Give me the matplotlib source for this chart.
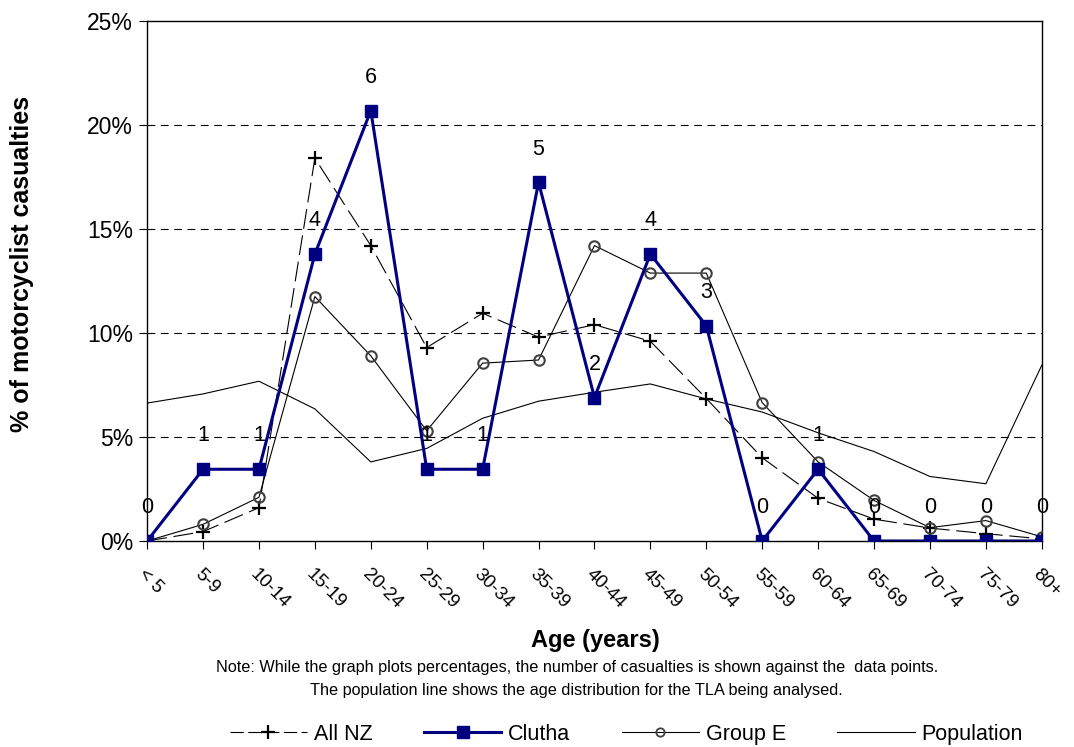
import numpy as np
import matplotlib.pyplot as plt
import matplotlib.transforms as mtransforms
from matplotlib.lines import Line2D

plt.rcParams['font.family'] = ['Liberation Sans', 'DejaVu Sans']

age_groups = ["< 5", "5-9", "10-14", "15-19", "20-24", "25-29", "30-34", "35-39",
              "40-44", "45-49", "50-54", "55-59", "60-64", "65-69", "70-74",
              "75-79", "80+"]

# percentages of motorcyclist casualties
all_nz = [0.0, 0.45, 1.6, 18.4, 14.2, 9.3, 10.95, 9.8, 10.4, 9.6, 6.85,
          4.0, 2.05, 1.05, 0.62, 0.35, 0.1]
clutha_counts = [0, 1, 1, 4, 6, 1, 1, 5, 2, 4, 3, 0, 1, 0, 0, 0, 0]
group_e = [0.0, 0.8, 2.1, 11.75, 8.9, 5.3, 8.55, 8.7, 14.2, 12.88, 12.88,
           6.65, 3.8, 1.95, 0.64, 0.98, 0.2]
population = [6.63, 7.07, 7.68, 6.35, 3.8, 4.45, 5.9, 6.72, 7.15, 7.55, 6.83,
              6.2, 5.2, 4.3, 3.1, 2.75, 8.45]

clutha = [100.0 * c / sum(clutha_counts) for c in clutha_counts]
x = np.arange(len(age_groups))

fig = plt.figure(figsize=(10.74, 7.47), dpi=100)
ax = fig.add_axes([0.137, 0.2758, 0.833, 0.6961])

navy = "#000080"

ax.plot(x, population, color="black", lw=0.8, zorder=2)
ax.plot(x, all_nz, color="black", lw=0.8, dashes=(18, 6), marker="+",
        ms=10, mew=1.6, zorder=3)
ax.plot(x, group_e, color="black", lw=0.8, marker="o", ms=7.5,
        mfc="none", mec="#404040", mew=1.5, zorder=3)
ax.plot(x, clutha, color=navy, lw=2.2, marker="s", ms=8.5, mfc=navy,
        mec=navy, zorder=4)

for xi, yi, c in zip(x, clutha, clutha_counts):
    ax.annotate(str(c), (xi, yi), xytext=(0, 24), textcoords="offset points",
                ha="center", va="center", fontsize=15.5, zorder=5)

ax.set_xlim(0, len(age_groups) - 1)
ax.set_ylim(0, 25)
ax.set_yticks([0, 5, 10, 15, 20, 25])
ax.set_yticklabels([f"{v}%" for v in [0, 5, 10, 15, 20, 25]], fontsize=16.5)
for v in [5, 10, 15, 20]:
    ax.axhline(v, color="black", lw=0.8, dashes=(7, 5), zorder=1)

ax.set_xticks(x)
ax.set_xticklabels(age_groups, rotation=-45, ha="left", va="top",
                   rotation_mode="anchor", fontsize=13.5)
shift = mtransforms.ScaledTranslation(6 / 100, 0, fig.dpi_scale_trans)
for lab in ax.get_xticklabels():
    lab.set_transform(lab.get_transform() + shift)
ax.tick_params(axis="x", length=6, pad=12)
ax.tick_params(axis="y", length=6, pad=4)
for s in ax.spines.values():
    s.set_linewidth(1.0)

ax.set_ylabel("% of motorcyclist casualties", fontsize=18, fontweight="bold")
ax.yaxis.set_label_coords(-0.127, 0.533)
fig.text(0.554, 0.143, "Age (years)", ha="center", va="center", fontsize=17,
         fontweight="bold")
fig.text(0.537, 0.106,
         "Note: While the graph plots percentages, the number of casualties is shown against the  data points.",
         ha="center", va="center", fontsize=11.7)
fig.text(0.537, 0.076,
         "The population line shows the age distribution for the TLA being analysed.",
         ha="center", va="center", fontsize=11.7)

handles = [
    Line2D([], [], color="black", lw=0.8, dashes=(12, 4), marker="+", ms=10, mew=1.6),
    Line2D([], [], color=navy, lw=2.2, marker="s", ms=8),
    Line2D([], [], color="black", lw=0.8, marker="o", ms=6, mfc="none",
           mec="#404040", mew=1.3),
    Line2D([], [], color="black", lw=0.8),
]
fig.legend(handles, ["All NZ", "Clutha", "Group E", "Population"],
           loc="center", bbox_to_anchor=(0.583, 0.017), ncol=4, frameon=False,
           fontsize=15.5, handlelength=3.6, columnspacing=2.4, handletextpad=0.3)

fig.savefig("out.png", dpi=100, facecolor="white")
